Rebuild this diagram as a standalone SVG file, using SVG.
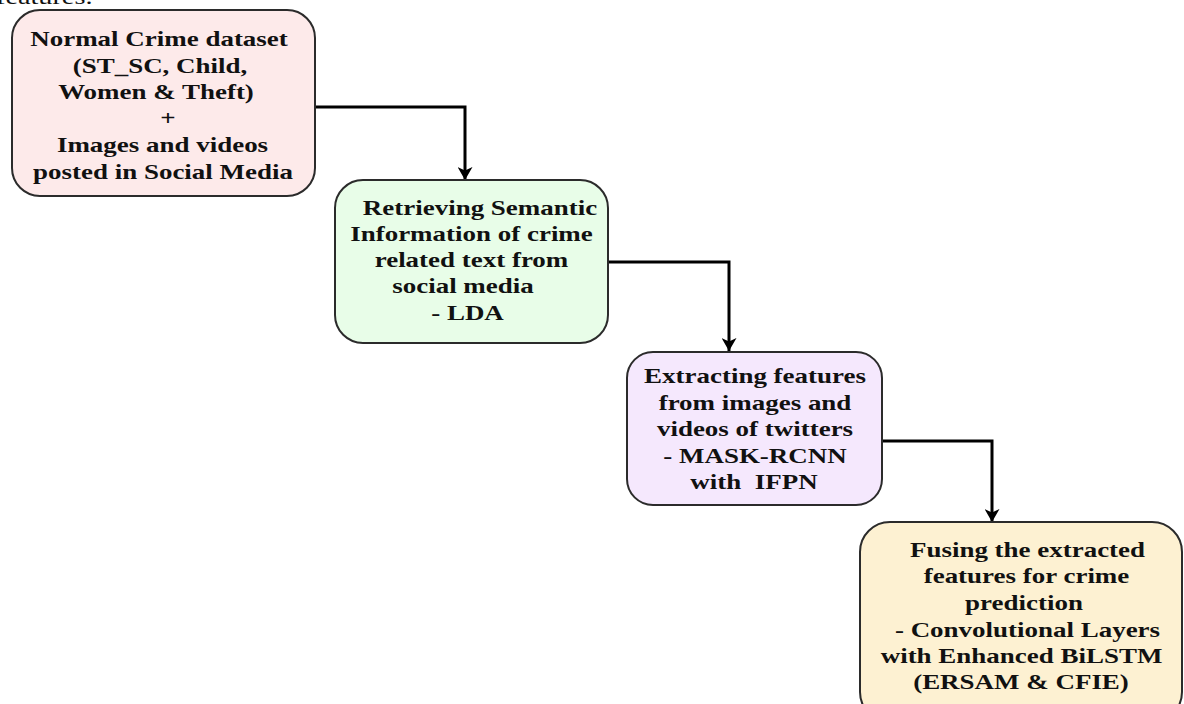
<svg xmlns="http://www.w3.org/2000/svg" width="1184" height="704" viewBox="0 0 1184 704">
<defs>
<style>
.box{stroke:#2b2b2b;stroke-width:2}
.lbl{font-family:"Liberation Serif","Times New Roman",serif;font-weight:bold;font-size:21px;fill:#111;text-anchor:middle}
.cap{font-family:"Liberation Serif","Times New Roman",serif;font-size:22px;fill:#111}
.conn{fill:none;stroke:#000;stroke-width:3}
</style>
<marker id="arr" markerUnits="userSpaceOnUse" viewBox="0 0 13 15" refX="13" refY="7.5" markerWidth="13" markerHeight="15" orient="auto">
<path d="M0,0 L13,7.5 L0,15 L3.5,7.5 Z" fill="#000"/>
</marker>
</defs>
<rect width="1184" height="704" fill="#fff"/>
<text class="cap" transform="translate(-4 4) scale(1.285 1)">features.</text>

<g id="connectors">
<path class="conn" d="M315,107 H465 V180" marker-end="url(#arr)"/>
<path class="conn" d="M608,262 H729 V351" marker-end="url(#arr)"/>
<path class="conn" d="M882,441 H992 V522" marker-end="url(#arr)"/>
</g>

<g id="node1">
<rect class="box" x="12" y="10" width="303" height="186" rx="28" fill="#fdeaea"/>
<text class="lbl" transform="translate(159 46) scale(1.285 1)">Normal Crime dataset</text>
<text class="lbl" transform="translate(160 72.5) scale(1.285 1)">(ST_SC, Child,</text>
<text class="lbl" transform="translate(156 99) scale(1.285 1)">Women &amp; Theft)</text>
<text class="lbl" transform="translate(168 125) scale(1.285 1)">+</text>
<text class="lbl" transform="translate(162.5 152) scale(1.285 1)">Images and videos</text>
<text class="lbl" transform="translate(163 178.5) scale(1.285 1)">posted in Social Media</text>
</g>

<g id="node2">
<rect class="box" x="335" y="180" width="273" height="163" rx="28" fill="#e8fde8"/>
<text class="lbl" transform="translate(480 215) scale(1.285 1)">Retrieving Semantic</text>
<text class="lbl" transform="translate(471.5 241) scale(1.285 1)">Information of crime</text>
<text class="lbl" transform="translate(471.5 267) scale(1.285 1)">related text from</text>
<text class="lbl" transform="translate(463 293) scale(1.285 1)">social media</text>
<text class="lbl" transform="translate(467.5 320) scale(1.285 1)">- LDA</text>
</g>

<g id="node3">
<rect class="box" x="627" y="352" width="255" height="153" rx="26" fill="#f5e8fd"/>
<text class="lbl" transform="translate(755 383) scale(1.285 1)">Extracting features</text>
<text class="lbl" transform="translate(755 410) scale(1.285 1)">from images and</text>
<text class="lbl" transform="translate(755 436) scale(1.285 1)">videos of twitters</text>
<text class="lbl" transform="translate(755 462.5) scale(1.285 1)">- MASK-RCNN</text>
<text class="lbl" xml:space="preserve" transform="translate(754 488.5) scale(1.285 1)">with  IFPN</text>
</g>

<g id="node4">
<rect class="box" x="860" y="522" width="322" height="200" rx="30" fill="#fdf1d2"/>
<text class="lbl" transform="translate(1027.5 557) scale(1.285 1)">Fusing the extracted</text>
<text class="lbl" transform="translate(1026.5 583) scale(1.285 1)">features for crime</text>
<text class="lbl" transform="translate(1024 610) scale(1.285 1)">prediction</text>
<text class="lbl" transform="translate(1027.5 636.5) scale(1.285 1)">- Convolutional Layers</text>
<text class="lbl" transform="translate(1021.5 663) scale(1.285 1)">with Enhanced BiLSTM</text>
<text class="lbl" transform="translate(1021 688.5) scale(1.285 1)">(ERSAM &amp; CFIE)</text>
</g>
</svg>
